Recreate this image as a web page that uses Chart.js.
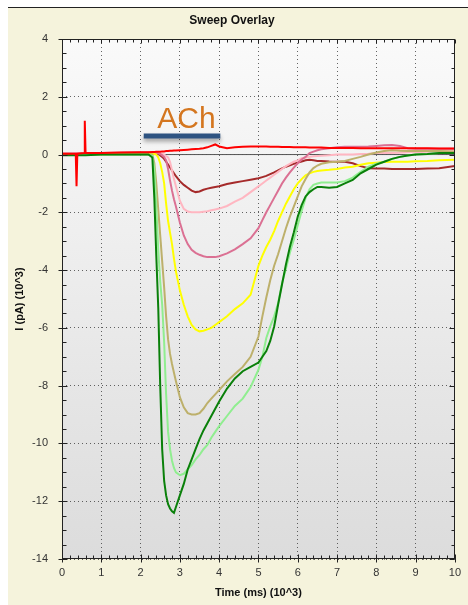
<!DOCTYPE html>
<html>
<head>
<meta charset="utf-8">
<script src="https://cdn.jsdelivr.net/npm/chart.js@4"></script>
<style>
  body { margin: 0; background: #fff; }
  #wrap { position: absolute; left: 8px; top: 7px; width: 460px; height: 597px; border-top: 1px solid #222; background: #f5f3dc; }
</style>
</head>
<body>
<div id="wrap"><canvas id="sweepChart" width="460" height="597"></canvas></div>
<script>
// Time axis (ms x 10^3), shared by every sweep
const timeK = [0, 0.35, 0.37, 0.39, 0.56, 0.58, 0.6,
  1.0, 1.5, 2.0, 2.2, 2.3,
  2.35, 2.4, 2.45, 2.5, 2.55, 2.6, 2.65, 2.7, 2.75, 2.8, 2.85, 2.9,
  3.0, 3.1, 3.2, 3.3, 3.4, 3.5, 3.6, 3.7, 3.8, 3.9, 4.0,
  4.2, 4.4, 4.6, 4.8,
  5.0, 5.1, 5.2, 5.3, 5.4, 5.5, 5.6, 5.7, 5.8, 5.9,
  6.0, 6.1, 6.2, 6.3, 6.4, 6.5, 6.6,
  6.8, 7.0, 7.2, 7.4, 7.6, 7.8,
  8.0, 8.2, 8.4, 8.6, 8.8,
  9.0, 9.3, 9.6, 10.0];

// Current (pA x 10^3) for each sweep
const redI = [0.03, 0.03, -1.1, 0.03, 0.05, 1.17, 0.05,
  0.05, 0.07, 0.08, 0.08, 0.09,
  0.09, 0.1, 0.1, 0.1, 0.11, 0.11, 0.12, 0.12, 0.13, 0.13, 0.14, 0.14,
  0.15, 0.16, 0.17, 0.18, 0.19, 0.2, 0.22, 0.25, 0.3, 0.35, 0.28,
  0.22, 0.25, 0.27, 0.28,
  0.28, 0.28, 0.28, 0.27, 0.27, 0.27, 0.26, 0.26, 0.26, 0.25,
  0.25, 0.25, 0.25, 0.24, 0.24, 0.24, 0.24,
  0.23, 0.23, 0.23, 0.23, 0.22, 0.22,
  0.22, 0.22, 0.22, 0.22, 0.22,
  0.22, 0.22, 0.21, 0.21];

const brownI = [0.02, 0.02, 0.02, 0.02, 0.02, 0.02, 0.02,
  0.03, 0.04, 0.05, 0.05, 0.05,
  0.05, 0.04, 0.02, -0.03, -0.08, -0.15, -0.25, -0.35, -0.45, -0.55, -0.65, -0.75,
  -0.92, -1.05, -1.15, -1.25, -1.3, -1.28, -1.22, -1.18, -1.15, -1.12, -1.1,
  -1.02, -0.97, -0.92, -0.87,
  -0.82, -0.78, -0.74, -0.68, -0.62, -0.55, -0.48, -0.42, -0.37, -0.32,
  -0.28, -0.24, -0.2, -0.18, -0.2, -0.22, -0.22,
  -0.24, -0.25, -0.25, -0.3, -0.4, -0.47,
  -0.48, -0.48, -0.5, -0.5, -0.5,
  -0.5, -0.48, -0.47, -0.4];

const lightPinkI = [0.04, 0.04, 0.04, 0.04, 0.04, 0.04, 0.04,
  0.05, 0.06, 0.07, 0.07, 0.07,
  0.07, 0.07, 0.06, 0.05, 0.03, 0, -0.05, -0.1, -0.25, -0.55, -0.85, -1.1,
  -1.6, -1.88, -1.97, -2.0, -2.0, -2.0, -1.98, -1.96, -1.93, -1.9, -1.87,
  -1.78, -1.63, -1.5, -1.3,
  -1.1, -1.0, -0.9, -0.8, -0.7, -0.6, -0.5, -0.4, -0.32, -0.25,
  -0.2, -0.13, -0.1, -0.08, -0.06, -0.05, -0.04,
  -0.02, 0, 0, 0, 0.02, 0.03,
  0.05, 0.05, 0.05, 0.06, 0.08,
  0.08, 0.1, 0.12, 0.12];

const rosePinkI = [0.04, 0.04, 0.04, 0.04, 0.04, 0.04, 0.04,
  0.05, 0.06, 0.07, 0.07, 0.07,
  0.07, 0.06, 0.05, 0.02, -0.03, -0.08, -0.2, -0.5, -0.9, -1.25, -1.55, -1.8,
  -2.35, -2.8, -3.1, -3.3, -3.4, -3.47, -3.52, -3.55, -3.55, -3.55, -3.52,
  -3.42, -3.28, -3.1, -2.9,
  -2.55, -2.27, -2.0, -1.75, -1.5, -1.25, -1.0, -0.8, -0.62, -0.45,
  -0.3, -0.17, -0.08, 0.05, 0.1, 0.15, 0.18,
  0.22, 0.25, 0.27, 0.27, 0.27, 0.28,
  0.3, 0.32, 0.33, 0.3, 0.22,
  0.2, 0.2, 0.2, 0.2];

const yellowI = [0.01, 0.01, 0.01, 0.01, 0.01, 0.01, 0.01,
  0.01, 0.02, 0.02, 0.02, 0.02,
  0.02, 0, -0.1, -0.3, -0.6, -1.0, -1.7, -2.3, -2.7, -3.1, -3.6, -4.05,
  -4.7, -5.2, -5.6, -5.9, -6.05, -6.12, -6.1, -6.05, -6.0, -5.9, -5.8,
  -5.6, -5.35, -5.15, -4.85,
  -3.85, -3.5, -3.2, -2.95, -2.65, -2.3, -2.0, -1.7, -1.45, -1.2,
  -1.0, -0.85, -0.72, -0.65, -0.6, -0.57, -0.55,
  -0.53, -0.5, -0.45, -0.42, -0.35, -0.3,
  -0.28, -0.26, -0.25, -0.25, -0.25,
  -0.23, -0.22, -0.2, -0.18];

const khakiI = [0, 0, 0, 0, 0, 0, 0,
  0, 0, 0, 0, 0,
  -0.3, -1.0, -1.9, -2.8, -3.7, -4.6, -5.6, -6.4, -6.9, -7.25, -7.55, -7.85,
  -8.4, -8.75, -8.95, -9.0, -9.0, -8.95, -8.8, -8.6, -8.45, -8.3, -8.15,
  -7.85, -7.6, -7.35, -7.0,
  -6.3, -5.6, -4.95, -4.35, -3.85, -3.45, -3.0, -2.55, -2.15, -1.8,
  -1.45, -1.1, -0.85, -0.62, -0.47, -0.38, -0.32,
  -0.27, -0.25, -0.22, -0.15, -0.08, 0,
  0.07, 0.12, 0.15, 0.13, 0.12,
  0.12, 0.12, 0.12, 0.1];

const lightGreenI = [-0.01, -0.01, -0.01, -0.01, -0.01, -0.01, -0.01,
  0, 0, 0, 0, -0.05,
  -0.5, -1.8, -3.3, -4.4, -5.2, -6.5, -8.3, -9.6, -10.2, -10.6, -10.85, -11.0,
  -11.1, -11.05, -10.9, -10.75, -10.55, -10.4, -10.2, -10.05, -9.8, -9.6, -9.4,
  -9.05, -8.7, -8.45, -8.05,
  -7.45, -7.0, -6.35, -5.95, -5.6, -5.15, -4.45, -3.95, -3.4, -2.95,
  -2.45, -1.95, -1.5, -1.2, -1.05, -1.0, -0.97,
  -0.97, -0.97, -0.92, -0.8, -0.6, -0.42,
  -0.32, -0.25, -0.15, -0.08, -0.03,
  0, 0.02, 0.05, 0.05];

const darkGreenI = [-0.02, -0.02, -0.02, -0.02, -0.02, -0.02, -0.02,
  0, 0, 0, 0, -0.1,
  -1.5, -3.5, -5.3, -8.0, -10.2, -11.3, -11.8, -12.1, -12.25, -12.35, -12.4, -12.2,
  -11.8, -11.4, -10.9, -10.55, -10.2, -9.85, -9.55, -9.3, -9.05, -8.8, -8.55,
  -8.1, -7.75, -7.5, -7.35,
  -7.2, -7.0, -6.8, -6.45, -5.95, -5.2, -4.5, -3.8, -3.2, -2.7,
  -2.15, -1.75, -1.45, -1.3, -1.2, -1.12, -1.12,
  -1.15, -1.12, -1.0, -0.88, -0.65, -0.5,
  -0.35, -0.25, -0.15, -0.08, -0.03,
  0, 0.02, 0.05, 0.05];

// ACh application bar and zero reference
const achT = [2.08, 4.03];
const achI = [0.64, 0.64];
const zeroT = [0, 10];
const zeroI = [0, 0];

const xTicks = [0, 10, 1];     // min, max, step
const yTicks = [-14, 4, 2];

function pts(times, values) {
  return times.map((t, i) => ({ x: t, y: values[i] }));
}

function trace(data, color) {
  return { data: pts(timeK, data), borderColor: color, borderWidth: 2, pointRadius: 0, tension: 0, fill: false };
}

// plot background gradient
const plotBg = {
  id: 'plotBg',
  beforeDraw(chart) {
    const { ctx, chartArea: a } = chart;
    const g = ctx.createLinearGradient(0, a.top, 0, a.bottom);
    g.addColorStop(0, '#fafafa');
    g.addColorStop(1, '#dcdcdc');
    ctx.save();
    ctx.fillStyle = g;
    ctx.fillRect(a.left, a.top, a.right - a.left, a.bottom - a.top);
    ctx.restore();
  }
};

// shadow under the ACh bar
const barShadow = {
  id: 'barShadow',
  beforeDatasetDraw(chart, args) {
    if (args.index !== 0) return;
    const ctx = chart.ctx;
    ctx.save();
    ctx.shadowColor = 'rgba(0,0,0,0.35)';
    ctx.shadowOffsetY = 3;
    ctx.shadowBlur = 4;
  },
  afterDatasetDraw(chart, args) {
    if (args.index === 0) chart.ctx.restore();
  }
};

// frame, minor ticks and the ACh label
const frame = {
  id: 'frame',
  afterDraw(chart) {
    const { ctx, chartArea: a, scales } = chart;
    const x = scales.x, y = scales.y;
    const L = Math.round(a.left) + 0.5, R = Math.round(a.right) - 0.5;
    const T = Math.round(a.top) + 0.5, B = Math.round(a.bottom) - 0.5;
    ctx.save();
    ctx.strokeStyle = '#222';
    ctx.lineWidth = 1;
    ctx.beginPath();
    for (let i = 0; i <= 50; i++) {
      const v = i * 0.2;
      const px = Math.round(x.getPixelForValue(v)) + 0.5;
      const major = i % 5 === 0;
      ctx.moveTo(px, B - (major ? 4 : 3)); ctx.lineTo(px, B + (major ? 4 : 1));
      ctx.moveTo(px, T); ctx.lineTo(px, T + (major ? 4 : 3));
    }
    for (let i = 0; i <= 36; i++) {
      const v = -14 + i * 0.5;
      const py = Math.round(y.getPixelForValue(v)) + 0.5;
      const major = i % 4 === 0;
      ctx.moveTo(L - (major ? 4 : 0), py); ctx.lineTo(L + (major ? 5 : 4), py);
      ctx.moveTo(R, py); ctx.lineTo(R - (major ? 5 : 3), py);
    }
    ctx.stroke();
    ctx.strokeRect(L, T, R - L, B - T);

    ctx.fillStyle = '#d4761f';
    ctx.font = '30px "Liberation Sans", Arial, sans-serif';
    ctx.textAlign = 'center';
    ctx.textBaseline = 'alphabetic';
    ctx.fillText('ACh', x.getPixelForValue(3.17), y.getPixelForValue(0.92));
    ctx.restore();
  }
};

const ctx = document.getElementById('sweepChart').getContext('2d');

new Chart(ctx, {
  type: 'line',
  data: {
    datasets: [
      { data: pts(achT, achI), borderColor: '#2e5381', borderWidth: 5, borderCapStyle: 'butt', pointRadius: 0, fill: false },
      trace(redI, '#ff0000'),
      trace(darkGreenI, '#0a800a'),
      trace(lightGreenI, '#90ee90'),
      trace(khakiI, '#bdb06b'),
      trace(yellowI, '#ffff00'),
      trace(rosePinkI, '#db7093'),
      trace(lightPinkI, '#ffb6c1'),
      trace(brownI, '#a52a2a'),
      { data: pts(zeroT, zeroI), borderColor: '#555', borderWidth: 1, pointRadius: 0, fill: false }
    ]
  },
  options: {
    responsive: false,
    animation: false,
    layout: { padding: { left: 0, right: 12, top: 0, bottom: 0 } },
    plugins: {
      legend: { display: false },
      tooltip: { enabled: false },
      title: {
        display: true,
        text: 'Sweep Overlay',
        color: '#111',
        font: { family: '"Liberation Sans", Arial, sans-serif', size: 12, weight: 'bold' },
        padding: { top: 5, bottom: 11.6 }
      }
    },
    scales: {
      x: {
        type: 'linear',
        min: xTicks[0],
        max: xTicks[1],
        afterFit: s => { s.height = 46; },
        ticks: { stepSize: xTicks[2], color: '#333', padding: 7, font: { family: '"Liberation Sans", Arial, sans-serif', size: 11 } },
        grid: { color: 'rgba(50,50,50,0.75)', lineWidth: 1, drawTicks: false },
        border: { display: false, dash: [1, 3] },
        title: {
          display: true,
          text: 'Time (ms) (10^3)',
          color: '#111',
          font: { family: '"Liberation Sans", Arial, sans-serif', size: 11, weight: 'bold' },
          padding: { top: 0, bottom: 5.4 }
        }
      },
      y: {
        type: 'linear',
        min: yTicks[0],
        max: yTicks[1],
        afterFit: s => { s.width = 54; },
        ticks: { stepSize: yTicks[2], color: '#333', padding: 14, font: { family: '"Liberation Sans", Arial, sans-serif', size: 11 } },
        grid: { color: 'rgba(50,50,50,0.75)', lineWidth: 1, drawTicks: false },
        border: { display: false, dash: [1, 3] },
        title: {
          display: true,
          text: 'I (pA) (10^3)',
          color: '#111',
          font: { family: '"Liberation Sans", Arial, sans-serif', size: 11, weight: 'bold' },
          padding: { top: 5.4, bottom: 0 }
        }
      }
    }
  },
  plugins: [plotBg, barShadow, frame]
});
</script>
</body>
</html>
